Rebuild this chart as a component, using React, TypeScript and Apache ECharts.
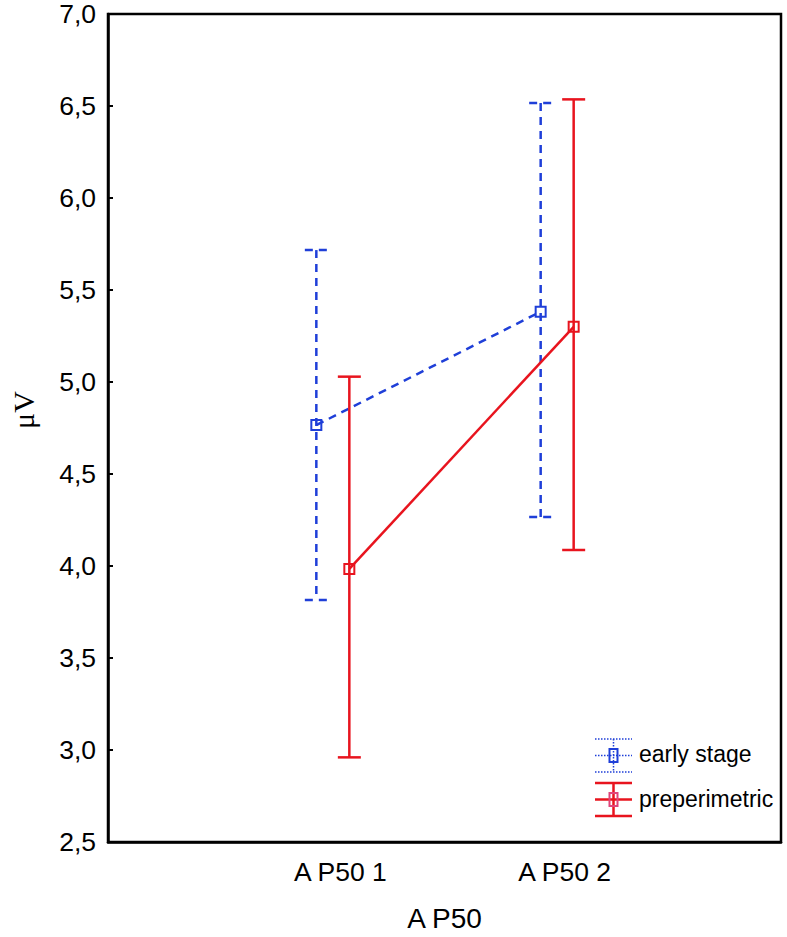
import React, { useEffect, useRef } from 'react';
import * as echarts from 'echarts';

// ---- data ----
const categories = ['A P50 1', 'A P50 2'];
const seriesNames = ['early stage', 'preperimetric'];
const earlyMean = [4.766, 5.382];
const earlyLow = [3.815, 4.266];
const earlyHigh = [5.717, 6.516];
const preMean = [3.984, 5.3];
const preLow = [2.96, 4.087];
const preHigh = [5.029, 6.536];
const yMin = 2.5;
const yMax = 7.0;
const yStep = 0.5;

const BLUE = '#1f3fd8';
const RED = '#e8141e';
const SANS = 'Liberation Sans, Arial, sans-serif';

function makeRenderer(means: number[], offset: number, color: string, dash: number[] | null) {
  return (params: any, api: any) => {
    const i = params.dataIndex;
    const x = api.value(0);
    const pm = api.coord([x, api.value(1)]);
    const pl = api.coord([x, api.value(2)]);
    const ph = api.coord([x, api.value(3)]);
    const cx = pm[0] + offset;
    const ls: any = { stroke: color, lineWidth: 2.5, fill: null };
    if (dash) ls.lineDash = dash;
    const half = 11.5;
    const children: any[] = [];
    if (i > 0) {
      const pp = api.coord([x - 1, means[i - 1]]);
      children.push({ type: 'line', shape: { x1: pp[0] + offset, y1: pp[1], x2: cx, y2: pm[1] }, style: { ...ls } });
    }
    children.push(
      { type: 'line', shape: { x1: cx, y1: ph[1], x2: cx, y2: pl[1] }, style: { ...ls } },
      { type: 'line', shape: { x1: cx - half, y1: ph[1], x2: cx + half, y2: ph[1] }, style: { ...ls } },
      { type: 'line', shape: { x1: cx - half, y1: pl[1], x2: cx + half, y2: pl[1] }, style: { ...ls } },
      { type: 'rect', shape: { x: cx - 5, y: pm[1] - 5, width: 10, height: 10 }, style: { stroke: color, lineWidth: 2, fill: 'rgba(0,0,0,0)' } }
    );
    return { type: 'group', children };
  };
}

function legendIcon(x: number, y: number, color: string, boxColor: string, dotted: boolean): any[] {
  const w = 37, h = 33;
  const st: any = dotted
    ? { stroke: color, lineWidth: 1.5, lineDash: [1.5, 1.5] }
    : { stroke: color, lineWidth: 2.5 };
  const cx = x + w / 2, cy = y + h / 2;
  return [
    { type: 'line', shape: { x1: x, y1: y, x2: x + w, y2: y }, style: { ...st } },
    { type: 'line', shape: { x1: x, y1: y + h, x2: x + w, y2: y + h }, style: { ...st } },
    { type: 'line', shape: { x1: x, y1: cy, x2: x + w, y2: cy }, style: { ...st } },
    { type: 'line', shape: { x1: cx, y1: y, x2: cx, y2: y + h }, style: { ...st } },
    { type: 'rect', shape: { x: cx - 4, y: cy - 6.5, width: 8, height: 13 }, style: { stroke: boxColor, lineWidth: 2, fill: 'rgba(0,0,0,0)' } },
  ];
}

export default function App() {
  const ref = useRef<HTMLDivElement>(null);
  useEffect(() => {
    if (!ref.current) return;
    const chart = echarts.init(ref.current, undefined, { renderer: 'svg' });
    const option: any = {
      animation: false,
      backgroundColor: '#fff',
      grid: { left: 106, right: 6, top: 14, bottom: 95, show: true, borderColor: '#000', borderWidth: 2.5, backgroundColor: 'transparent' },
      xAxis: {
        type: 'value',
        min: 0,
        max: categories.length + 1,
        interval: 1,
        name: 'A P50',
        nameLocation: 'middle',
        nameGap: 62,
        nameTextStyle: { fontFamily: SANS, fontSize: 28, color: '#000' },
        axisLine: { show: true, onZero: false, lineStyle: { color: '#000', width: 2.5 } },
        axisTick: { show: false },
        splitLine: { show: false },
        axisLabel: {
          fontFamily: SANS,
          fontSize: 26.5,
          color: '#000',
          margin: 16,
          padding: [0, 0, 0, 16],
          formatter: (v: number) => categories[v - 1] ?? '',
        },
      },
      yAxis: {
        type: 'value',
        min: yMin,
        max: yMax,
        interval: yStep,
        name: 'μV',
        nameLocation: 'middle',
        nameGap: 70,
        nameTextStyle: { fontFamily: 'Liberation Serif, Times New Roman, serif', fontSize: 30, color: '#000', padding: [0, 0, 0, 36] },
        axisLine: { show: true, onZero: false, lineStyle: { color: '#000', width: 2.5 } },
        axisTick: { show: true, inside: true, length: 5, lineStyle: { color: '#000', width: 2 } },
        splitLine: { show: false },
        axisLabel: {
          fontFamily: SANS,
          fontSize: 26.5,
          color: '#000',
          margin: 12,
          formatter: (v: number) => v.toFixed(1).replace('.', ','),
        },
      },
      series: [
        {
          name: seriesNames[0],
          type: 'custom',
          renderItem: makeRenderer(earlyMean, -16, BLUE, [8, 6]),
          data: earlyMean.map((m, i) => [i + 1, m, earlyLow[i], earlyHigh[i]]),
          encode: { x: 0, y: [1, 2, 3] },
          z: 2,
        },
        {
          name: seriesNames[1],
          type: 'custom',
          renderItem: makeRenderer(preMean, 17, RED, null),
          data: preMean.map((m, i) => [i + 1, m, preLow[i], preHigh[i]]),
          encode: { x: 0, y: [1, 2, 3] },
          z: 3,
        },
      ],
      graphic: [
        ...legendIcon(595, 739, BLUE, BLUE, true),
        { type: 'text', left: 639, top: 742, style: { text: seriesNames[0], font: `23px ${SANS}`, fill: '#000' } },
        ...legendIcon(595, 783, RED, '#e0457a', false),
        { type: 'text', left: 639, top: 787, style: { text: seriesNames[1], font: `23px ${SANS}`, fill: '#000' } },
      ],
    };
    chart.setOption(option);
    return () => chart.dispose();
  }, []);
  return <div ref={ref} style={{ position: 'fixed', left: 0, top: 0, width: 787, height: 937, background: '#fff' }} />;
}
